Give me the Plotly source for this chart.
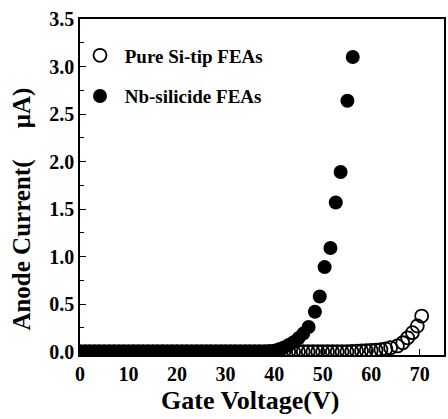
import plotly.graph_objects as go

# Pure Si-tip FEAs (open circles)
pure_v = list(range(0, 65)) + [65.4, 66.5, 67.5, 68.5, 69.5, 70.4]
pure_i = [0.0] * 56 + [0.003, 0.005, 0.007, 0.010, 0.013, 0.017, 0.022, 0.030, 0.042,
                       0.060, 0.094, 0.146, 0.200, 0.270, 0.375]

# Nb-silicide FEAs (filled circles)
nb_v = list(range(0, 47)) + [47.1, 48.4, 49.4, 50.4, 51.6, 52.7, 53.7, 55.1, 56.2]
nb_i = [0.0] * 39 + [0.005, 0.010, 0.025, 0.045, 0.07, 0.10, 0.14, 0.19] + \
       [0.26, 0.42, 0.58, 0.89, 1.09, 1.57, 1.89, 2.64, 3.10]

x_ticks = [0, 10, 20, 30, 40, 50, 60, 70]
y_ticks = [0.0, 0.5, 1.0, 1.5, 2.0, 2.5, 3.0, 3.5]

fig = go.Figure()
fig.add_trace(go.Scatter(
    x=pure_v, y=pure_i, mode="markers", name=" Pure Si-tip FEAs",
    legendgroup="a",
    marker=dict(symbol="circle-open", size=13, color="black",
                line=dict(width=1.8, color="black")),
))
fig.add_trace(go.Scatter(
    x=nb_v, y=nb_i, mode="markers", name=" Nb-silicide FEAs",
    legendgroup="b",
    marker=dict(symbol="circle", size=14, color="black"),
))

axis_common = dict(
    showline=True, linecolor="black", linewidth=1.5, mirror=True,
    ticks="inside", ticklen=6, tickwidth=1.3, tickcolor="black",
    showgrid=False, zeroline=False,
    tickfont=dict(family="Liberation Serif", size=20, color="black", weight="bold"),
)

fig.update_layout(
    width=448, height=419,
    margin=dict(l=80, r=4, t=19, b=64, autoexpand=False),
    paper_bgcolor="white", plot_bgcolor="white",
    font=dict(family="Liberation Serif", color="black", weight="bold"),
    showlegend=True,
    legend=dict(
        x=0.0, y=0.948, xanchor="left", yanchor="top",
        bgcolor="rgba(0,0,0,0)", traceorder="grouped", tracegroupgap=13,
        font=dict(family="Liberation Serif", size=19, color="black", weight="bold"),
        itemsizing="trace",
    ),
    xaxis=dict(range=[0, 75], tickvals=x_ticks, **axis_common),
    yaxis=dict(range=[-0.035, 3.5], tickvals=y_ticks,
               ticktext=[f"{v:.1f}" for v in y_ticks],
               minor=dict(dtick=0.25, ticks="inside", ticklen=4, tickcolor="black"),
               **axis_common),
    annotations=[
        dict(text="Anode Current(     μA)", xref="paper", yref="paper",
             x=-0.16, y=0.435, textangle=-90, showarrow=False,
             xanchor="center", yanchor="middle",
             font=dict(family="Liberation Serif", size=25, color="black", weight="bold")),
        dict(text="Gate Voltage(V)", xref="paper", yref="paper",
             x=0.467, y=-0.134, showarrow=False,
             xanchor="center", yanchor="middle",
             font=dict(family="Liberation Serif", size=26, color="black", weight="bold")),
    ],
)

fig.write_html("out.html")
